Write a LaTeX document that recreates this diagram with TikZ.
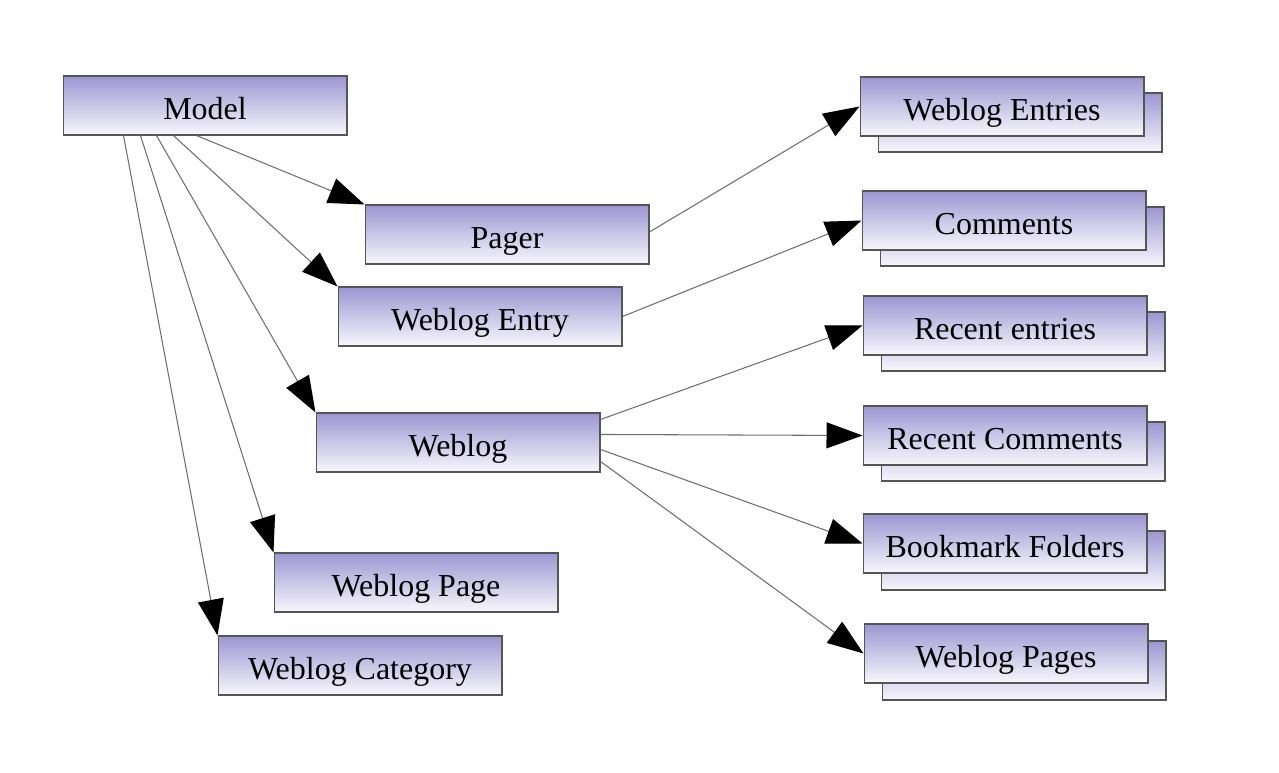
\documentclass[tikz,border=0pt]{standalone}
\usepackage{fontspec}
\setmainfont{Liberation Serif}
\usetikzlibrary{arrows.meta}
\definecolor{boxtop}{RGB}{155,150,210}
\definecolor{boxbot}{RGB}{248,247,252}
\definecolor{edge}{RGB}{85,85,85}
\definecolor{wire}{RGB}{110,110,110}
\tikzset{
  box/.style={draw=edge,line width=0.6pt,top color=boxtop,bottom color=boxbot,
    minimum width=5.68cm,minimum height=1.18cm,inner sep=0pt,
    text height=17.4pt,text depth=1.5pt,
    font=\fontsize{18.2}{20}\selectfont},
  link/.style={draw=wire,line width=0.6pt,-{Triangle[length=0.72cm,width=0.52cm,black]}}
}
\begin{document}
\begin{tikzpicture}[x=0.02cm,y=-0.02cm]
\useasboundingbox (0,0) rectangle (1279,773);
% left column
\node[box](model)at(205,105.5){Model};
\node[box](pager)at(507,234.5){Pager};
\node[box](entry)at(480,316.5){Weblog Entry};
\node[box](weblog)at(458,442.5){Weblog};
\node[box](page)at(416,582.5){Weblog Page};
\node[box](category)at(360,665.5){Weblog Category};
% right column, stacked boxes
\node[box](entriesback)at(1020,122.5){};
\node[box](entries)at(1002,106.5){Weblog Entries};
\node[box](commentsback)at(1022,236.5){};
\node[box](comments)at(1004,220.5){Comments};
\node[box](recentback)at(1023,341.5){};
\node[box](recent)at(1005,325.5){Recent entries};
\node[box](recentcback)at(1023,451.5){};
\node[box](recentc)at(1005,435.5){Recent Comments};
\node[box](bookmarksback)at(1023,560.5){};
\node[box](bookmarks)at(1005,543.5){Bookmark Folders};
\node[box](pagesback)at(1024,670.5){};
\node[box](pages)at(1006,653.5){Weblog Pages};
% model links
\draw[link]([xshift=2.68cm]model.south west)--(pager.north west);
\draw[link]([xshift=2.22cm]model.south west)--(entry.north west);
\draw[link]([xshift=1.88cm]model.south west)--(weblog.north west);
\draw[link]([xshift=1.56cm]model.south west)--(page.north west);
\draw[link]([xshift=1.22cm]model.south west)--(category.north west);
% right links
\draw[link]([yshift=0.05cm]pager.east)--(entries.west);
\draw[link](entry.east)--(comments.west);
\draw[link]([yshift=-0.14cm]weblog.north east)--(recent.west);
\draw[link]([yshift=-0.44cm]weblog.north east)--(recentc.west);
\draw[link]([yshift=-0.74cm]weblog.north east)--(bookmarks.west);
\draw[link]([yshift=-0.98cm]weblog.north east)--(pages.west);
\end{tikzpicture}
\end{document}
